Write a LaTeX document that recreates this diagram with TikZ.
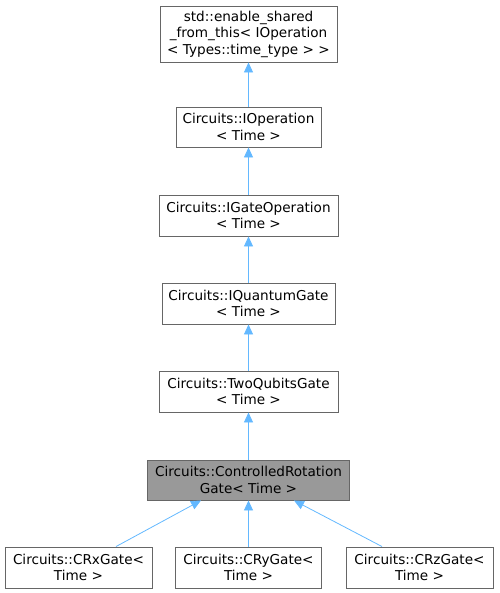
\documentclass[tikz,border=0pt]{standalone}
\usepackage{fontspec}
\setmainfont{DejaVu Sans}
\usetikzlibrary{arrows.meta}
\definecolor{edgeblue}{HTML}{63B8FF}
\definecolor{boxline}{HTML}{666666}
\definecolor{hlfill}{HTML}{999999}
\tikzset{
  cls/.style={draw=boxline, line width=0.9pt, fill=white, inner sep=0pt, align=center, font=\fontsize{13.6}{16.5}\selectfont},
  hl/.style={cls, fill=hlfill},
  inh/.style={draw=edgeblue, line width=0.8pt, -{Triangle[length=10pt,width=9pt,fill=edgeblue]}}
}
\begin{document}
\begin{tikzpicture}[x=1pt,y=-1pt]
\useasboundingbox (0,0) rectangle (499,593);
\node[cls, minimum width=177, minimum height=56] (eso) at (248.5,34) {std::enable\_shared\\\_from\_this\textless{} IOperation\\\textless{} Types::time\_type \textgreater{} \textgreater{}};
\node[cls, minimum width=145, minimum height=40] (iop) at (248.5,127) {Circuits::IOperation\\\textless{} Time \textgreater{}};
\node[cls, minimum width=179, minimum height=41] (igo) at (248.5,215.5) {Circuits::IGateOperation\\\textless{} Time \textgreater{}};
\node[cls, minimum width=173, minimum height=41] (iqg) at (248.5,303.5) {Circuits::IQuantumGate\\\textless{} Time \textgreater{}};
\node[cls, minimum width=179, minimum height=41] (tqg) at (248.5,391.5) {Circuits::TwoQubitsGate\\\textless{} Time \textgreater{}};
\node[hl, minimum width=202, minimum height=40] (crg) at (248.5,480) {Circuits::ControlledRotation\\Gate\textless{} Time \textgreater{}};
\node[cls, minimum width=147, minimum height=41] (crx) at (78.5,567.5) {Circuits::CRxGate\textless{}\\Time \textgreater{}};
\node[cls, minimum width=146, minimum height=41] (cry) at (248.5,567.5) {Circuits::CRyGate\textless{}\\Time \textgreater{}};
\node[cls, minimum width=147, minimum height=41] (crz) at (419.5,567.5) {Circuits::CRzGate\textless{}\\Time \textgreater{}};
\draw[inh] (iop.north) -- (eso.south);
\draw[inh] (igo.north) -- (iop.south);
\draw[inh] (iqg.north) -- (igo.south);
\draw[inh] (tqg.north) -- (iqg.south);
\draw[inh] (crg.north) -- (tqg.south);
\draw[inh] (crx.north -| 116,0) -- (crg.south -| 201,0);
\draw[inh] (cry.north) -- (crg.south);
\draw[inh] (crz.north -| 382,0) -- (crg.south -| 294,0);
\end{tikzpicture}
\end{document}
